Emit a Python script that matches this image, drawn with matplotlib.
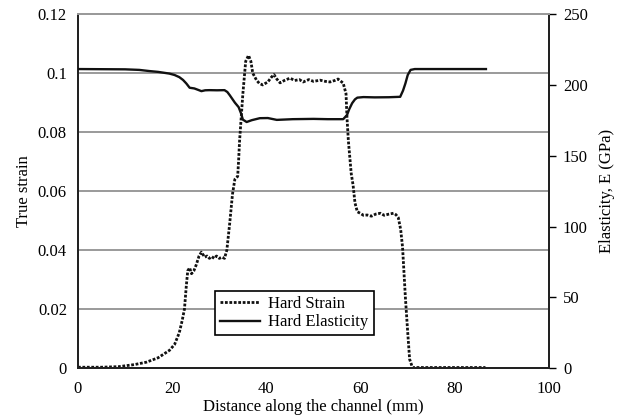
import matplotlib
matplotlib.use("Agg")
import matplotlib.pyplot as plt
from matplotlib.lines import Line2D

plt.rcParams['font.family'] = ['Liberation Serif', 'DejaVu Serif']

# Hard strain along the channel
strain_x = [0, 5, 8.7, 12, 14.5, 17, 19.4, 20.5, 21.5, 22.1, 22.6, 23.0, 23.3, 23.7, 24.1,
            24.6, 25.1, 25.7, 26.2, 26.9, 27.4, 27.9, 28.4, 28.9, 29.4, 30.0, 30.6, 31.1,
            31.6, 32.2, 32.8, 33.3, 33.9, 34.1, 34.3, 35.0, 35.6, 36.2, 36.7, 37.1, 37.9,
            38.5, 39.2, 40.3, 41.0, 41.6, 42.2, 42.9, 43.8, 45.0, 46.0, 47.0, 47.8, 49.0,
            50.0, 51.4, 52.5, 53.5, 54.5, 55.2, 56.3, 56.9, 57.1, 57.4, 58.0, 58.4, 58.8,
            59.3, 59.9, 60.6, 61.4, 62.3, 63.2, 64.2, 65.0, 66.0, 67.0, 67.5, 68.0, 68.5,
            68.9, 69.5, 70.0, 70.4, 71.0, 75, 80, 86.5]
strain_y = [0.0003, 0.0003, 0.0005, 0.0012, 0.002, 0.0035, 0.006, 0.008, 0.012, 0.016,
            0.020, 0.028, 0.033, 0.034, 0.032, 0.033, 0.035, 0.038, 0.0393, 0.0376, 0.038,
            0.0372, 0.0378, 0.0372, 0.038, 0.0372, 0.0376, 0.0372, 0.040, 0.049, 0.059,
            0.064, 0.065, 0.0705, 0.077, 0.093, 0.104, 0.106, 0.104, 0.100, 0.0976, 0.0965,
            0.096, 0.097, 0.0985, 0.0995, 0.098, 0.0967, 0.0975, 0.0983, 0.0975, 0.0978,
            0.097, 0.0978, 0.0972, 0.0976, 0.0972, 0.097, 0.0975, 0.098, 0.0966, 0.093,
            0.085, 0.077, 0.066, 0.062, 0.056, 0.053, 0.0525, 0.0518, 0.0519, 0.0515,
            0.0522, 0.0525, 0.0518, 0.0522, 0.0525, 0.052, 0.051, 0.047, 0.041, 0.024,
            0.012, 0.003, 0.0002, 0.0002, 0.0002, 0.0002]

# Hard elasticity along the channel (GPa)
elast_x = [0, 10, 13, 15.1, 17, 19.4, 20.5, 21.5, 22.3, 23.0, 23.7, 24.7, 25.5, 26.2, 27.0,
           27.9, 29.5, 31.1, 31.7, 32.2, 33.3, 34.1, 34.6, 35.0, 35.8, 36.9, 38.6, 40.3,
           42.2, 45.6, 50, 53, 56.3, 57.1, 57.6, 58.2, 58.8, 59.3, 60.6, 63, 66, 68.4,
           69.0, 69.5, 70.0, 70.6, 71.5, 86.6]
elast_y = [211.2, 211.0, 210.6, 209.8, 209.2, 208.0, 207.0, 205.5, 203.5, 201.0, 198.0,
           197.5, 196.5, 195.6, 196.2, 196.3, 196.2, 196.3, 195.0, 192.8, 187.5, 184.3,
           180.0, 175.5, 173.8, 175.1, 176.5, 176.6, 175.3, 175.8, 176.0, 175.8, 175.8,
           178.7, 183.0, 187.1, 189.8, 191.0, 191.4, 191.2, 191.3, 191.6, 196.0, 201.0,
           207.0, 210.6, 211.2, 211.2]

x_ticks = [0, 20, 40, 60, 80, 100]
strain_ticks = [0, 0.02, 0.04, 0.06, 0.08, 0.1, 0.12]
strain_labels = ['0', '0.02', '0.04', '0.06', '0.08', '0.1', '0.12']
elast_ticks = [0, 50, 100, 150, 200, 250]

fig = plt.figure(figsize=(6.19, 4.15), dpi=100)
ax = fig.add_axes([0.126, 0.113, 0.761, 0.853])
ax2 = ax.twinx()

grid_color = '#9a9a9a'
ax.set_xlim(0, 100)
ax.set_ylim(0, 0.12)
ax.set_xticks(x_ticks)
ax.set_yticks(strain_ticks)
ax.set_yticklabels(strain_labels)
ax.yaxis.grid(True, color=grid_color, linewidth=1.4)
ax.set_axisbelow(True)
ax.tick_params(axis='both', length=0, labelsize=12, colors='black')
ax.tick_params(axis='y', pad=8)
ax.tick_params(axis='x', pad=9)

ax2.set_ylim(0, 250)
ax2.set_yticks(elast_ticks)
ax2.tick_params(axis='y', length=5, width=1, pad=5, labelsize=12, direction='out')

for a in (ax, ax2):
    a.spines['top'].set_color(grid_color)
    a.spines['top'].set_linewidth(1.4)
    for s in ('left', 'right', 'bottom'):
        a.spines[s].set_color('#222222')
        a.spines[s].set_linewidth(1.4)

strain_style = (0, (1.0, 0.6))
ax.plot(strain_x, strain_y, color='#111111', linewidth=2.0, linestyle=strain_style,
        label='Hard Strain', zorder=3)
ax2.plot(elast_x, elast_y, color='#111111', linewidth=1.7, linestyle='-',
         label='Hard Elasticity', zorder=3)

ax.set_xlabel('Distance along the channel (mm)', fontsize=12, labelpad=2)
ax.set_ylabel('True strain', fontsize=12, labelpad=4)
ax2.set_ylabel('Elasticity, E (GPa)', fontsize=12, labelpad=8)

handles = [Line2D([], [], color='#111111', linewidth=2.0, linestyle=strain_style),
           Line2D([], [], color='#111111', linewidth=1.7)]
leg = ax2.legend(handles, ['Hard Strain', 'Hard Elasticity'], loc='center',
                 bbox_to_anchor=(0.459, 0.155), fontsize=12, frameon=True, fancybox=False,
                 edgecolor='black', framealpha=1, handlelength=2.4, borderpad=0.3,
                 labelspacing=0.15, handletextpad=0.5)
leg.get_frame().set_linewidth(1.2)

fig.savefig('out.png', dpi=100)
